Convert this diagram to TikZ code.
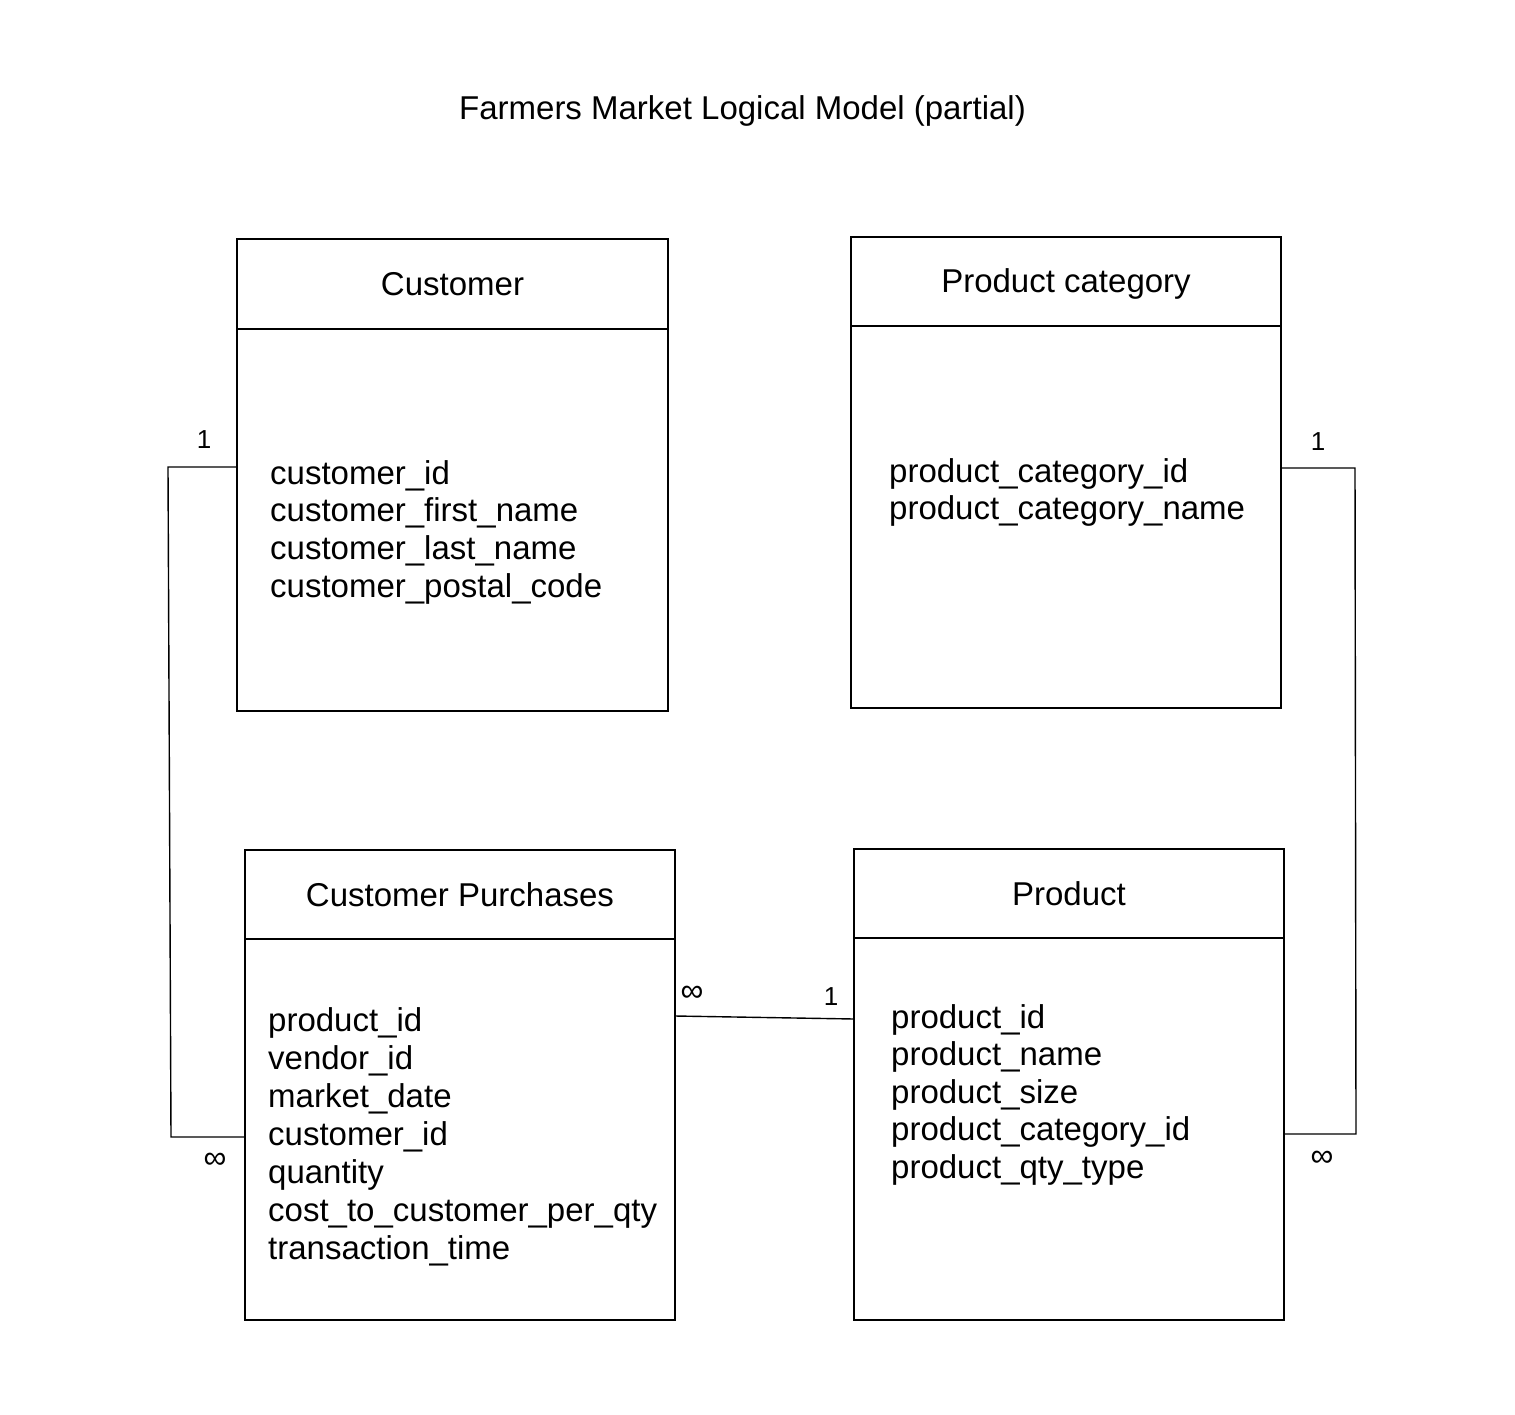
\documentclass[tikz,border=0pt]{standalone}
\usepackage{fontspec}
\setmainfont{Liberation Sans}
\usetikzlibrary{calc}
\begin{document}
\begin{tikzpicture}[x=1pt,y=-1pt,
  entity/.style={draw, line width=1.8pt, rectangle, inner sep=0pt, outer sep=0pt, anchor=north west},
  divider/.style={line width=1.6pt},
  conn/.style={line width=1.4pt},
  ttl/.style={font=\fontsize{33}{38}\selectfont, anchor=base, inner sep=0pt},
  attrs/.style={font=\fontsize{33}{#1}\selectfont, anchor=base west, align=left, inner sep=0pt},
  card/.style={font=\fontsize{26}{28}\selectfont, inner sep=0pt, anchor=center},
  many/.style={font=\fontsize{32}{34}\selectfont, inner sep=0pt, anchor=center}]
\useasboundingbox (0,0) rectangle (1515,1415);

\node[ttl] (title) at (742.5,120) {Farmers Market Logical Model (partial)};

% boxes
\node[entity, minimum width=431pt, minimum height=472pt] (cust) at (237,239) {};
\node[entity, minimum width=430pt, minimum height=471pt] (pcat) at (851,237) {};
\node[entity, minimum width=430pt, minimum height=470pt] (cp) at (245,850) {};
\node[entity, minimum width=430pt, minimum height=471pt] (prod) at (854,849) {};

% header dividers
\draw[divider] ([yshift=-90pt]cust.north west) -- ([yshift=-90pt]cust.north east);
\draw[divider] ([yshift=-89pt]pcat.north west) -- ([yshift=-89pt]pcat.north east);
\draw[divider] ([yshift=-89pt]cp.north west) -- ([yshift=-89pt]cp.north east);
\draw[divider] ([yshift=-89pt]prod.north west) -- ([yshift=-89pt]prod.north east);

% header titles
\node[ttl] (custT) at (452.5,295.5) {Customer};
\node[ttl] (pcatT) at (1066,293) {Product category};
\node[ttl] (cpT) at (460,906) {Customer Purchases};
\node[ttl] (prodT) at (1069,905) {Product};

% attributes (anchor = baseline of last line)
\node[attrs=37.7] (custA) at (270,597.1) {customer\_id\\customer\_first\_name\\customer\_last\_name\\customer\_postal\_code};
\node[attrs=37] (pcatA) at (889,519) {product\_category\_id\\product\_category\_name};
\node[attrs=38] (cpA) at (268,1259) {product\_id\\vendor\_id\\market\_date\\customer\_id\\quantity\\cost\_to\_customer\_per\_qty\\transaction\_time};
\node[attrs=37.5] (prodA) at (891,1178) {product\_id\\product\_name\\product\_size\\product\_category\_id\\product\_qty\_type};

% connector: Customer -- Customer Purchases
\coordinate (lb1) at (168,467);
\coordinate (lb2) at (171,1137);
\draw[conn] ([yshift=-228pt]cust.north west) -- (lb1) -- (lb2) -- ([yshift=-287pt]cp.north west);
\node[card] (l1) at (204,440) {1};
\node[many] (linf) at (215,1161) {∞};

% connector: Customer Purchases -- Product
\draw[conn] ([yshift=-166pt]cp.north east) -- ([yshift=-170pt]prod.north west);
\node[many] (minf) at (692,994) {∞};
\node[card] (m1) at (831,997) {1};

% connector: Product category -- Product
\coordinate (rb1) at (1355,468);
\coordinate (rb2) at (1356,1134);
\draw[conn] ([yshift=-231pt]pcat.north east) -- (rb1) -- (rb2) -- ([yshift=-285pt]prod.north east);
\node[card] (r1) at (1318,442) {1};
\node[many] (rinf) at (1322,1159) {∞};
\end{tikzpicture}
\end{document}
